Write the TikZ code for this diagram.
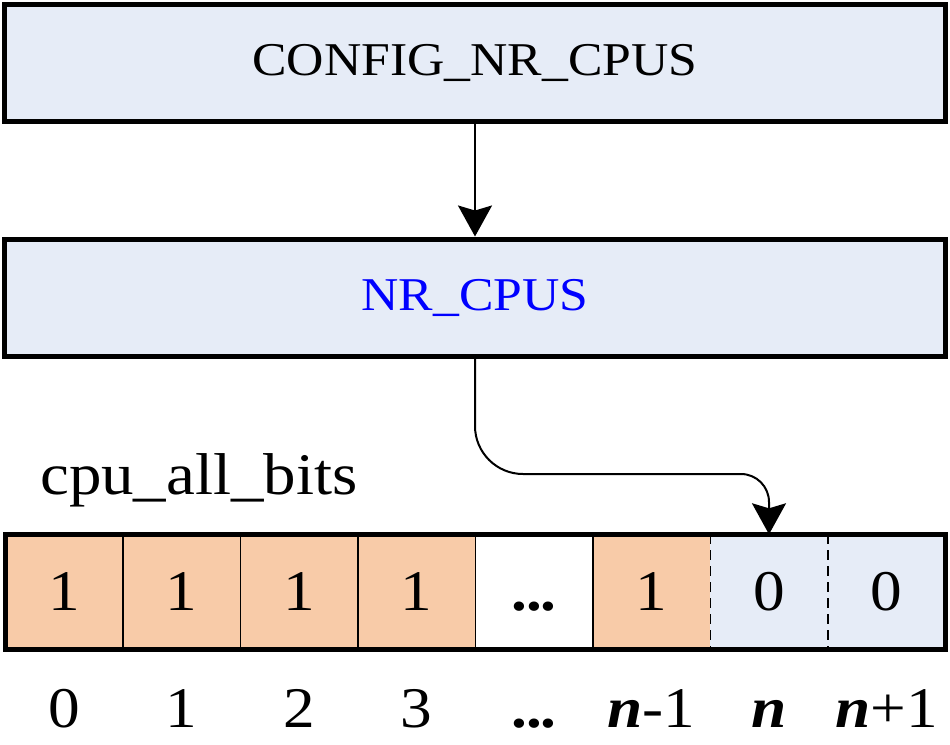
\documentclass[tikz,border=0pt]{standalone}
\usepackage{fontspec}
\setmainfont{Liberation Serif}[FakeStretch=1.1]
\usetikzlibrary{arrows.meta}
\definecolor{boxfill}{HTML}{E6ECF7}
\definecolor{onefill}{HTML}{F8CBA8}
\newcommand{\dotsq}{\textbf{.\kern-1.5pt.\kern-1.5pt.}}
\begin{document}
\begin{tikzpicture}[x=1pt,y=-1pt,
  bigbox/.style={draw=black, fill=boxfill, line width=5pt, minimum width=941pt, minimum height=117pt, inner sep=0pt, font=\fontsize{47}{50}\selectfont},
  cellbox/.style={draw=none, minimum width=117.5pt, minimum height=115pt, inner sep=0pt},
  digit/.style={anchor=base, inner sep=0pt, font=\fontsize{57.5}{60}\selectfont},
  tip/.style={-{Stealth[length=31pt, width=34pt, inset=5pt]}},
  arr/.style={line width=2pt, tip},
  divider/.style={line width=1.5pt},
  dashdiv/.style={line width=1.5pt, dash pattern=on 10pt off 6pt}]
\useasboundingbox (0,0) rectangle (950,744);

\node[bigbox] (cfg) at (475,62.5) {CONFIG\_NR\_CPUS};
\node[bigbox, text=blue] (nr) at (475,297.5) {NR\_CPUS};
\draw[arr] (cfg.south) -- (nr.north);

\node[anchor=base west, inner sep=0pt, font=\fontsize{59}{62}\selectfont] (lbl) at (40,494) {cpu\_all\_bits};

% cells
\node[cellbox, fill=onefill] (c0) at (64,592) {};
\node[cellbox, fill=onefill] (c1) at (181.5,592) {};
\node[cellbox, fill=onefill] (c2) at (299,592) {};
\node[cellbox, fill=onefill] (c3) at (416.5,592) {};
\node[cellbox, fill=white]   (c4) at (534,592) {};
\node[cellbox, fill=onefill] (c5) at (651.5,592) {};
\node[cellbox, fill=boxfill] (c6) at (769,592) {};
\node[cellbox, fill=boxfill] (c7) at (886.5,592) {};

\draw[divider] (c0.north east) -- (c0.south east);
\draw[divider] (c1.north east) -- (c1.south east);
\draw[divider] (c2.north east) -- (c2.south east);
\draw[divider] (c3.north east) -- (c3.south east);
\draw[divider] (c4.north east) -- (c4.south east);
\draw[dashdiv] (c5.north east) -- (c5.south east);
\draw[dashdiv] (c6.north east) -- (c6.south east);
\draw[line width=5pt] (c0.north west) rectangle (c7.south east);

% cell values
\node[digit] (v0) at (64,610) {1};
\node[digit] (v1) at (181.5,610) {1};
\node[digit] (v2) at (299,610) {1};
\node[digit] (v3) at (416.5,610) {1};
\node[digit] (v4) at (534,610) {\dotsq};
\node[digit] (v5) at (651.5,610) {1};
\node[digit] (v6) at (769,610) {0};
\node[digit] (v7) at (886.5,610) {0};

% indices
\node[digit] (i0) at (64,727) {0};
\node[digit] (i1) at (181.5,727) {1};
\node[digit] (i2) at (299,727) {2};
\node[digit] (i3) at (416.5,727) {3};
\node[digit] (i4) at (534,727) {\dotsq};
\node[digit] (i5) at (651.5,727) {\textbf{\textit{n}}-1};
\node[digit] (i6) at (769,727) {\textbf{\textit{n}}};
\node[digit] (i7) at (886.5,727) {\textbf{\textit{n}}+1};

\coordinate (mid) at (620,474);
\draw[arr] (nr.south) [rounded corners=48pt] |- (mid) [rounded corners=28pt] -| (c6.north);
\end{tikzpicture}
\end{document}
